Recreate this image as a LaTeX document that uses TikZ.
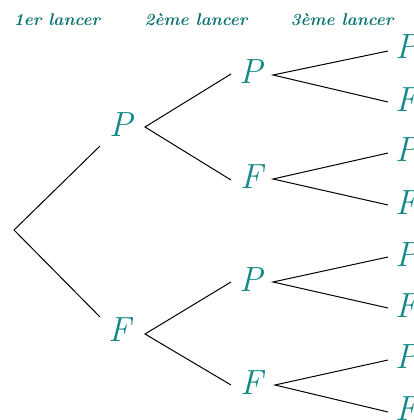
\documentclass[tikz,border=0pt]{standalone}
\usepackage{fontspec}
\definecolor{tealc}{RGB}{20,135,135}
\definecolor{headc}{RGB}{10,115,115}
\tikzset{
  lettre/.style={text=tealc, inner sep=0pt, font=\fontsize{35}{40}\selectfont\itshape},
  entete/.style={text=headc, inner sep=0pt, font=\fontsize{17}{20}\selectfont\bfseries\itshape},
  branche/.style={draw=black, line width=1pt},
}
\begin{document}
\begin{tikzpicture}[x=1pt,y=-1pt]
\useasboundingbox (0,0) rectangle (414,420);
% headers
\node[entete] (h1) at (57,20) {1er lancer};
\node[entete] (h2) at (196,20) {2ème lancer};
\node[entete] (h3) at (342,20) {3ème lancer};
% root
\coordinate (r) at (14,230);
% level 1
\node[lettre] (p1) at (121,125) {P};
\node[lettre] (f1) at (120,330) {F};
\coordinate (r1) at (100,146);
\coordinate (r2) at (100,317);
\draw[branche] (r1) -- (r) -- (r2);
% level 2
\node[lettre] (pp) at (251,72) {P};
\node[lettre] (pf) at (252,177) {F};
\node[lettre] (fp) at (251,280) {P};
\node[lettre] (ff) at (252,383) {F};
\coordinate (vp1) at (145,127);
\coordinate (vf1) at (145,334);
\coordinate (epp) at (231,74);
\coordinate (epf) at (231,180);
\coordinate (efp) at (231,282);
\coordinate (eff) at (231,385);
\draw[branche] (epp) -- (vp1) -- (epf);
\draw[branche] (efp) -- (vf1) -- (eff);
% level 3
\node[lettre] (ppp) at (407,47) {P};
\node[lettre] (ppf) at (407,100) {F};
\node[lettre] (pfp) at (407,150) {P};
\node[lettre] (pff) at (407,203) {F};
\node[lettre] (fpp) at (407,255) {P};
\node[lettre] (fpf) at (407,306) {F};
\node[lettre] (ffp) at (407,357) {P};
\node[lettre] (fff) at (407,409) {F};
\coordinate (vpp) at (273,75);
\coordinate (vpf) at (273,179);
\coordinate (vfp) at (273,282);
\coordinate (vff) at (275,385);
\coordinate (e1) at (388,51);
\coordinate (e2) at (388,102);
\coordinate (e3) at (388,153);
\coordinate (e4) at (388,205);
\coordinate (e5) at (388,257);
\coordinate (e6) at (388,308);
\coordinate (e7) at (388,360);
\coordinate (e8) at (388,412);
\draw[branche] (e1) -- (vpp) -- (e2);
\draw[branche] (e3) -- (vpf) -- (e4);
\draw[branche] (e5) -- (vfp) -- (e6);
\draw[branche] (e7) -- (vff) -- (e8);
\end{tikzpicture}
\end{document}
